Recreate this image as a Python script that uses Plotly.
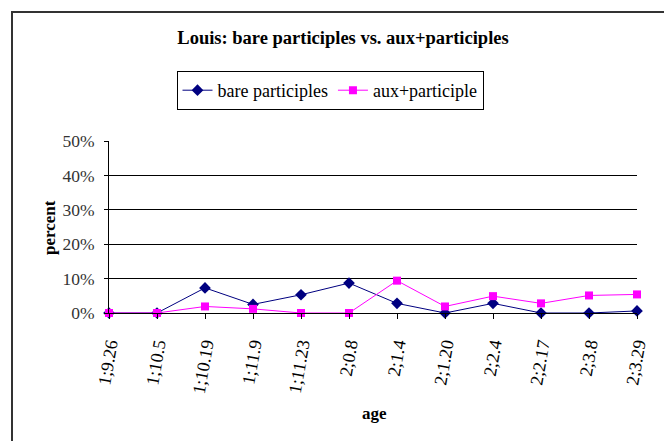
import plotly.graph_objects as go

ages = ["1;9.26", "1;10.5", "1;10.19", "1;11.9", "1;11.23", "2;0.8",
        "2;1.4", "2;1.20", "2;2.4", "2;2.17", "2;3.8", "2;3.29"]
bare_participles = [0.0, 0.0, 7.3, 2.5, 5.3, 8.7, 2.8, 0.0, 2.8, 0.0, 0.0, 0.6]
aux_participle = [0.0, 0.0, 1.9, 1.2, 0.0, 0.0, 9.4, 1.9, 4.9, 2.8, 5.1, 5.4]
y_ticks = [0, 10, 20, 30, 40, 50]

W, H = 664, 441
L, R, T, B = 109, 637, 141, 313
FONT = "Times New Roman, Liberation Serif, DejaVu Serif, serif"

x_idx = list(range(len(ages)))

fig = go.Figure()
fig.add_trace(go.Scatter(
    x=x_idx, y=[v / 100 for v in bare_participles], name="bare participles",
    mode="lines+markers", line=dict(color="#000080", width=1),
    marker=dict(symbol="diamond", size=9, color="#000080"), cliponaxis=False))
fig.add_trace(go.Scatter(
    x=x_idx, y=[v / 100 for v in aux_participle], name="aux+participle",
    mode="lines+markers", line=dict(color="#FF00FF", width=1),
    marker=dict(symbol="square", size=8, color="#FF00FF"), cliponaxis=False))

pw, ph = R - L, B - T

def px(x):
    return (x - L) / pw

def py(y):
    return (B - y) / ph

fig.update_layout(
    width=W, height=H,
    margin=dict(l=L, r=W - R, t=T, b=H - B, pad=0),
    paper_bgcolor="white", plot_bgcolor="white",
    font=dict(family=FONT, color="black", size=16),
    title=dict(text="<b>Louis: bare participles vs. aux+participles</b>",
               x=343 / W, xref="container", xanchor="center",
               y=1 - 38 / H, yref="container", yanchor="middle",
               font=dict(family=FONT, size=18.5, color="black")),
    legend=dict(orientation="h", x=330 / W, xref="container", xanchor="center",
                y=1 - 71 / H, yref="container", yanchor="top",
                bordercolor="black", borderwidth=1, bgcolor="white",
                font=dict(family=FONT, size=18, color="black"),
                itemwidth=30, tracegroupgap=0),
    showlegend=True,
    xaxis=dict(range=[0, len(ages) - 1], tickmode="array", tickvals=x_idx,
               ticktext=ages, tickangle=-80, ticks="outside", ticklen=5,
               tickcolor="black", showline=True, linecolor="black", linewidth=1,
               showgrid=False, zeroline=False, ticklabelstandoff=8,
               tickfont=dict(family=FONT, size=18, color="black")),
    yaxis=dict(range=[0, 0.5], tickmode="array",
               tickvals=[v / 100 for v in y_ticks],
               ticktext=[f"{v}%" for v in y_ticks],
               ticks="outside", ticklen=4, tickcolor="black",
               showline=True, linecolor="black", linewidth=1,
               showgrid=True, gridcolor="black", gridwidth=1, zeroline=False,
               ticklabelstandoff=6,
               tickfont=dict(family=FONT, size=17.5, color="#333333")),
    annotations=[
        dict(text="<b>percent</b>", x=px(49), y=py(228), xref="paper", yref="paper",
             textangle=-90, showarrow=False, xanchor="center", yanchor="middle",
             font=dict(family=FONT, size=17, color="black")),
        dict(text="<b>age</b>", x=px(374), y=py(413), xref="paper", yref="paper",
             showarrow=False, xanchor="center", yanchor="middle",
             font=dict(family=FONT, size=17, color="black")),
    ],
    shapes=[dict(type="rect", xref="paper", yref="paper",
                 x0=px(12), x1=px(700), y0=py(12), y1=py(480),
                 line=dict(color="#333333", width=2), layer="below")],
)

fig.write_html("out.html", config={"displayModeBar": False},
               post_script="document.body.style.margin='0';document.body.style.overflow='hidden';")
